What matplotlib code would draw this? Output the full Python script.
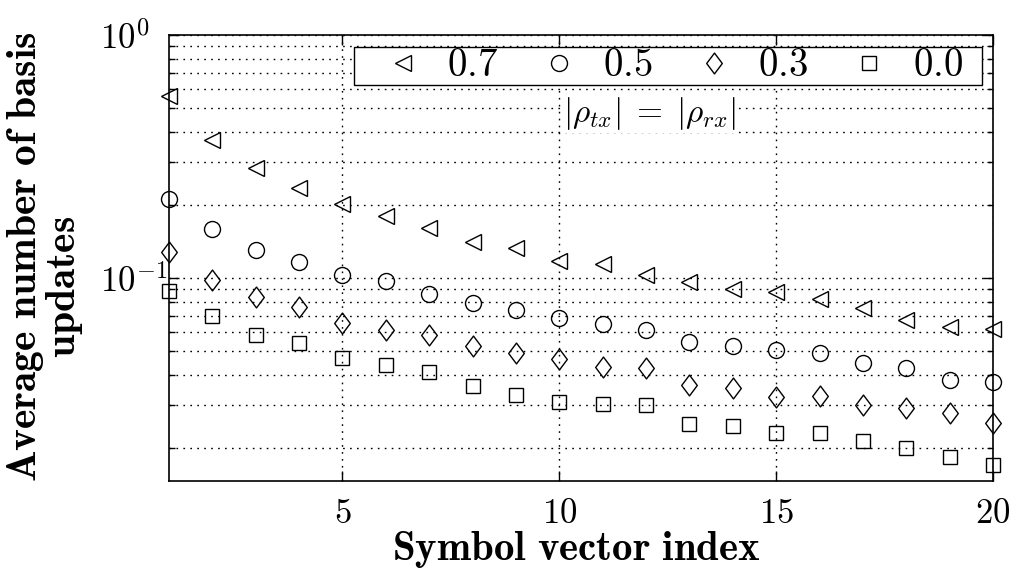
import matplotlib
matplotlib.use("Agg")
import matplotlib.pyplot as plt
import numpy as np
from matplotlib.path import Path
from matplotlib.patches import Rectangle
from matplotlib.ticker import FixedLocator, FixedFormatter, LogLocator, NullFormatter

plt.rcParams['mathtext.fontset'] = 'cm'
plt.rcParams['font.family'] = ['DejaVu Serif']

x_idx = list(range(1, 21))
rho_labels = ['0.7', '0.5', '0.3', '0.0']
rho_07 = [0.563, 0.370, 0.284, 0.235, 0.202, 0.180, 0.160, 0.140, 0.133, 0.117,
          0.114, 0.103, 0.096, 0.090, 0.0873, 0.0817, 0.0755, 0.0671, 0.0627, 0.0615]
rho_05 = [0.211, 0.159, 0.130, 0.116, 0.103, 0.097, 0.086, 0.0787, 0.0740, 0.0686,
          0.0647, 0.0611, 0.0547, 0.0526, 0.0505, 0.0490, 0.0446, 0.0425, 0.0380, 0.0374]
rho_03 = [0.1276, 0.098, 0.0838, 0.0762, 0.0651, 0.0611, 0.0583, 0.0525, 0.0490, 0.0463,
          0.0431, 0.0425, 0.0363, 0.0352, 0.0325, 0.0327, 0.0300, 0.0291, 0.0277, 0.0252]
rho_00 = [0.0887, 0.0698, 0.0581, 0.0539, 0.0467, 0.0439, 0.0409, 0.0360, 0.0329, 0.0310,
          0.0302, 0.0300, 0.0250, 0.0246, 0.0230, 0.0230, 0.0214, 0.0199, 0.0183, 0.0170]
x_ticks = [5, 10, 15, 20]
x_ticklabels = ['$5$', '$10$', '$15$', '$20$']
y_ticks = [0.1, 1.0]
y_ticklabels = ['$10^{-1}$', '$10^{0}$']

diamond = Path([(0, 1), (0.75, 0), (0, -1), (-0.75, 0), (0, 1)],
               [Path.MOVETO, Path.LINETO, Path.LINETO, Path.LINETO, Path.CLOSEPOLY])

W, H = 1016, 571
AX_L, AX_R, AX_T, AX_B = 169, 993, 35, 481
fig = plt.figure(figsize=(W / 100, H / 100), dpi=100)
ax = fig.add_axes([AX_L / W, 1 - AX_B / H, (AX_R - AX_L) / W, (AX_B - AX_T) / H])


def axx(px):
    return (px - AX_L) / (AX_R - AX_L)


def axy(py):
    return (AX_B - py) / (AX_B - AX_T)


series = [rho_07, rho_05, rho_03, rho_00]
markers = ['<', 'o', diamond, 's']
msizes = [11.5, 11.5, 15, 10]
handles = []
for vals, m, ms, lab in zip(series, markers, msizes, rho_labels):
    h, = ax.plot(x_idx, vals, linestyle='none', marker=m, markersize=ms,
                 markerfacecolor='none', markeredgecolor='black', markeredgewidth=1.0,
                 label=r'$\mathbf{' + lab + '}$', zorder=3, clip_on=False)
    handles.append(h)

ax.set_yscale('log')
ax.set_xlim(1, 20)
ax.set_ylim(0.0146, 1.0)

ax.xaxis.set_major_locator(FixedLocator(x_ticks))
ax.xaxis.set_major_formatter(FixedFormatter(x_ticklabels))
ax.yaxis.set_major_locator(FixedLocator(y_ticks))
ax.yaxis.set_major_formatter(FixedFormatter(y_ticklabels))
ax.yaxis.set_minor_locator(LogLocator(base=10, subs=np.arange(2, 10), numticks=20))
ax.yaxis.set_minor_formatter(NullFormatter())

ax.tick_params(axis='both', which='both', direction='in', top=True, right=True,
               labelsize=25, width=1.0)
ax.tick_params(which='major', length=7)
ax.tick_params(which='minor', length=4)
ax.tick_params(axis='x', pad=10.5)
ax.tick_params(axis='y', pad=(AX_L - 100) * 0.72)
for t in ax.get_yticklabels():
    t.set_verticalalignment('center_baseline')
    t.set_horizontalalignment('left')

grid_style = dict(color='black', linestyle=(0, (1.2, 3.8)), linewidth=1.0)
ax.xaxis.grid(True, which='major', **grid_style)
ax.yaxis.grid(True, which='both', **grid_style)
ax.set_axisbelow(True)
for s in ax.spines.values():
    s.set_linewidth(1.2)

# axis titles
fig.text(576 / W, 1 - 560 / H, r'$\mathbf{Symbol\ vector\ index}$', fontsize=29.5,
         ha='center', va='baseline')
fig.text(36 / W, 1 - 257 / H, r'$\mathbf{Average\ number\ of\ basis}$', fontsize=30,
         ha='center', va='baseline', rotation=90, rotation_mode='anchor')
fig.text(75 / W, 1 - 287 / H, r'$\mathbf{updates}$', fontsize=30,
         ha='center', va='baseline', rotation=90, rotation_mode='anchor')

# legend: frame drawn as a rectangle, entries from the plotted series
frame = Rectangle((axx(354), axy(85)), axx(982) - axx(354), axy(47) - axy(85),
                  transform=ax.transAxes, facecolor='white', edgecolor='black',
                  linewidth=1.0, zorder=4.5, clip_on=False)
ax.add_patch(frame)
fs_leg = 28
em = fs_leg * 100 / 72.0
leg = ax.legend(handles=handles, ncol=4, loc='center left',
                bbox_to_anchor=(axx(383), axy(66)),
                borderaxespad=0, frameon=False, fontsize=fs_leg,
                handlelength=40 / em, handletextpad=24 / em, columnspacing=41 / em,
                borderpad=0)
leg.set_zorder(5)

ax.text(axx(650), axy(113), r'$|\rho_{tx}|\;=\;|\rho_{rx}|$',
        transform=ax.transAxes, fontsize=24, ha='center', va='center', zorder=4,
        bbox=dict(facecolor='white', edgecolor='none', pad=1))

fig.savefig('out.png', dpi=100)
